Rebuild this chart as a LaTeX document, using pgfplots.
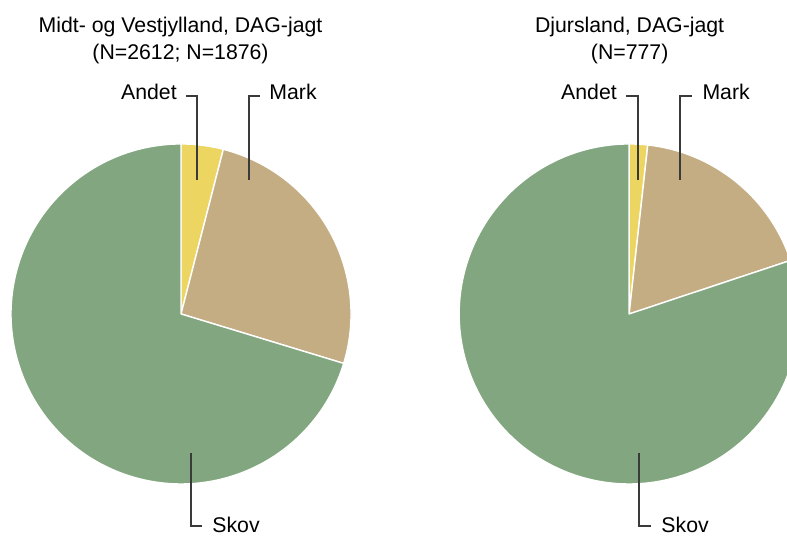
\documentclass[border=0pt]{standalone}
\usepackage{pgfplots}
\pgfplotsset{compat=1.18}
\usepackage{fontspec}
\setmainfont{Liberation Sans}

\definecolor{cSkov}{HTML}{82A780}
\definecolor{cMark}{HTML}{C4AD82}
\definecolor{cAndet}{HTML}{ECD560}
\definecolor{cLeader}{HTML}{3A3A3A}

% andele i procent (Andet, Mark, Skov), med uret fra kl. 12
\def\VAndet{4.0}  \def\VMark{25.7}  \def\VSkov{70.3}   % Midt- og Vestjylland
\def\DAndet{1.75} \def\DMark{18.15} \def\DSkov{80.1}   % Djursland
\def\R{3.4cm} % radius = 170 px

% #1 centrum, #2 start (%), #3 slut (%), #4 farve
\newcommand\slice[4]{%
  \fill[#4, draw=white, line width=0.8pt, line join=round]
    (axis cs:#1) -- ++({90-3.6*(#2)}:\R)
    arc[start angle={90-3.6*(#2)}, end angle={90-3.6*(#3)}, radius=\R] -- cycle;}

\begin{document}
\begin{tikzpicture}[txt/.style={font=\fontsize{12.1}{14}\selectfont, inner sep=0pt}]
\begin{axis}[
    x=0.02cm, y=0.02cm,
    xmin=0, xmax=787, ymin=0, ymax=536,
    hide axis, clip=false,
    leaderline/.style={cLeader, line width=0.75pt, no marks},
]
% venstre lagkage
\slice{181,222}{0}{\VAndet}{cAndet}
\slice{181,222}{\VAndet}{\VAndet+\VMark}{cMark}
\slice{181,222}{\VAndet+\VMark}{100}{cSkov}
% hoejre lagkage
\slice{629,222}{0}{\DAndet}{cAndet}
\slice{629,222}{\DAndet}{\DAndet+\DMark}{cMark}
\slice{629,222}{\DAndet+\DMark}{100}{cSkov}

% hjaelpelinjer
\addplot[leaderline] coordinates {(186,440) (197,440) (197,356)};
\addplot[leaderline] coordinates {(260,440) (249,440) (249,356)};
\addplot[leaderline] coordinates {(191,83) (191,10) (202,10)};
\addplot[leaderline] coordinates {(626,440) (638,440) (638,356)};
\addplot[leaderline] coordinates {(692,440) (680,440) (680,356)};
\addplot[leaderline] coordinates {(639,83) (639,10) (651,10)};

% etiketter
\node[txt, anchor=base east] at (axis cs:177,436.7) {Andet};
\node[txt, anchor=base west] at (axis cs:269,436.7) {Mark};
\node[txt, anchor=base west] at (axis cs:212,3.5) {Skov};
\node[txt, anchor=base east] at (axis cs:617,436.7) {Andet};
\node[txt, anchor=base west] at (axis cs:702,436.7) {Mark};
\node[txt, anchor=base west] at (axis cs:661,3.5) {Skov};

% titler
\node[txt, anchor=base] at (axis cs:180.5,503.5) {Midt- og Vestjylland, DAG-jagt};
\node[txt, anchor=base] at (axis cs:180.5,476.5) {(N=2612; N=1876)};
\node[txt, anchor=base] at (axis cs:629.5,503.5) {Djursland, DAG-jagt};
\node[txt, anchor=base] at (axis cs:629.5,476.5) {(N=777)};
\end{axis}
\pgfresetboundingbox
\path[use as bounding box] (0,0) rectangle (15.74cm,10.72cm);
\end{tikzpicture}
\end{document}
